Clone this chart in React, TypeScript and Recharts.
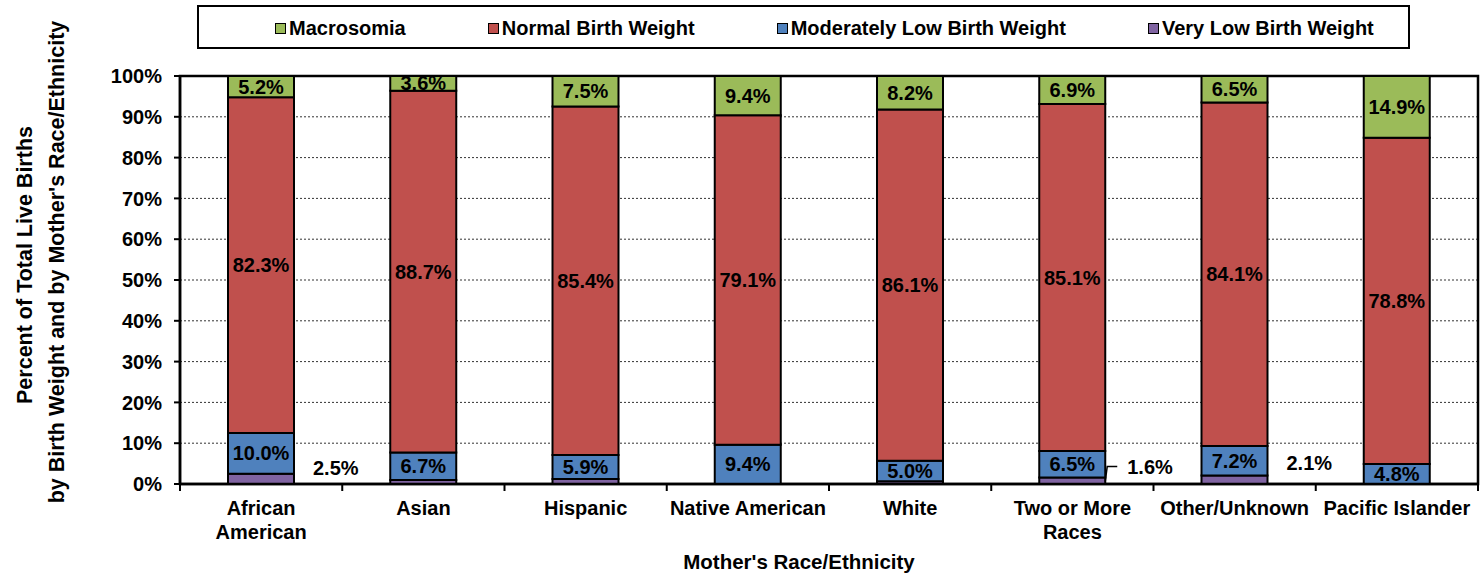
import { BarChart, Bar, XAxis, YAxis, CartesianGrid, LabelList, ReferenceArea, Label } from 'recharts';

const categories = [
  'African\nAmerican',
  'Asian',
  'Hispanic',
  'Native American',
  'White',
  'Two or More\nRaces',
  'Other/Unknown',
  'Pacific Islander',
];
const veryLow = [2.5, 1.0, 1.2, 0, 0.7, 1.6, 2.1, 0];
const moderatelyLow = [10.0, 6.7, 5.9, 9.4, 5.0, 6.5, 7.2, 4.8];
const normalWeight = [82.3, 88.7, 85.4, 79.1, 86.1, 85.1, 84.1, 78.8];
const macrosomia = [5.2, 3.6, 7.5, 9.4, 8.2, 6.9, 6.5, 14.9];
// which very-low labels Excel showed beside the bar ('' = hidden)
const veryLowLabel = ['side', '', '', '', '', 'leader', 'side', ''];
const yTicks = [0, 0.1, 0.2, 0.3, 0.4, 0.5, 0.6, 0.7, 0.8, 0.9, 1];

const data = categories.map((name, i) => ({
  name,
  veryLow: veryLow[i],
  moderatelyLow: moderatelyLow[i],
  normal: normalWeight[i],
  macrosomia: macrosomia[i],
}));

const series = [
  { key: 'macrosomia', name: 'Macrosomia', color: '#9BBB59' },
  { key: 'normal', name: 'Normal Birth Weight', color: '#C0504D' },
  { key: 'moderatelyLow', name: 'Moderately Low Birth Weight', color: '#4F81BD' },
  { key: 'veryLow', name: 'Very Low Birth Weight', color: '#8064A2' },
];

const FONT = '"Liberation Sans", Arial, Helvetica, sans-serif';
const PLOT_LEFT = 180;
const PLOT_RIGHT = 1478;
const BAND = (PLOT_RIGHT - PLOT_LEFT) / categories.length;

const fmt = (v: number) => `${v.toFixed(1)}%`;

function box(props: any) {
  const vb = props.viewBox || {};
  return {
    x: vb.x ?? props.x,
    y: vb.y ?? props.y,
    width: vb.width ?? props.width,
    height: vb.height ?? props.height,
  };
}

function InnerLabel(props: any) {
  const { x, y, width, height } = box(props);
  const v = Number(props.value);
  if (!v) return null;
  return (
    <text
      x={x + width / 2}
      y={y + height / 2}
      textAnchor="middle"
      dominantBaseline="central"
      fontFamily={FONT}
      fontWeight="bold"
      fontSize={20}
      fill="#000"
    >
      {fmt(v)}
    </text>
  );
}

function SideLabel(props: any) {
  const { x, y, width } = box(props);
  // zero-height bars are skipped by the label list, so find the category from the bar position
  const idx = Math.floor((x + width / 2 - PLOT_LEFT) / BAND);
  const kind = veryLowLabel[idx];
  if (!kind) return null;
  const v = veryLow[idx];
  if (kind === 'leader') {
    return (
      <g>
        <polyline
          points={`${x + width},${y + 4} ${x + width + 2},${y - 11} ${x + width + 12},${y - 11}`}
          fill="none"
          stroke="#000"
          strokeWidth={1.5}
        />
        <text x={x + width + 22} y={y - 10} dominantBaseline="central" fontFamily={FONT} fontWeight="bold" fontSize={20} fill="#000">
          {fmt(v)}
        </text>
      </g>
    );
  }
  return (
    <text x={x + width + 19} y={y - (idx === 0 ? 6 : 12)} dominantBaseline="central" fontFamily={FONT} fontWeight="bold" fontSize={20} fill="#000">
      {fmt(v)}
    </text>
  );
}

function XTick(props: any) {
  const { x, y, payload, index } = props;
  const lines = String(payload.value).split('\n');
  const last = index === categories.length - 1;
  return (
    <g>
      <line x1={x - BAND / 2} x2={x - BAND / 2} y1={y} y2={y + 7} stroke="#000" strokeWidth={2} />
      {last && <line x1={x + BAND / 2} x2={x + BAND / 2} y1={y} y2={y + 7} stroke="#000" strokeWidth={2} />}
      {lines.map((t, i) => (
        <text
          key={i}
          x={x}
          y={y + 31 + i * 24}
          textAnchor="middle"
          fontFamily={FONT}
          fontWeight="bold"
          fontSize={20}
          fill="#000"
        >
          {t}
        </text>
      ))}
    </g>
  );
}

function ChartLegend() {
  return (
    <div
      style={{
        position: 'absolute',
        left: 197,
        top: 5,
        width: 1213,
        height: 44,
        boxSizing: 'border-box',
        border: '2px solid #000',
        background: '#fff',
        display: 'flex',
        alignItems: 'center',
        paddingLeft: 76,
        paddingTop: 2,
        gap: 82,
        fontFamily: FONT,
        fontWeight: 'bold',
        fontSize: 20,
        color: '#000',
        whiteSpace: 'nowrap',
      }}
    >
      {series.map((s) => (
        <div key={s.key} style={{ display: 'flex', alignItems: 'center' }}>
          <span
            style={{
              display: 'inline-block',
              width: 9,
              height: 9,
              background: s.color,
              border: '1px solid #000',
              marginRight: 3,
            }}
          />
          {s.name}
        </div>
      ))}
    </div>
  );
}

export default function App() {
  return (
    <div style={{ position: 'absolute', left: 0, top: 0, width: 1480, height: 576, background: '#fff' }}>
      <BarChart
        width={1480}
        height={576}
        data={data}
        stackOffset="expand"
        margin={{ top: 76, right: 2, bottom: 32, left: 100 }}
        barSize={66}
      >
        <CartesianGrid vertical={false} stroke="#333" strokeDasharray="2 2" strokeWidth={1} />
        <XAxis
          dataKey="name"
          interval={0}
          height={60}
          tickLine={false}
          tickSize={0}
          tickMargin={0}
          axisLine={{ stroke: '#000', strokeWidth: 2.5 }}
          tick={<XTick />}
        >
          <Label
            content={() => (
              <text x={799} y={569} textAnchor="middle" fontFamily={FONT} fontWeight="bold" fontSize={20.5} fill="#000">
                Mother's Race/Ethnicity
              </text>
            )}
          />
        </XAxis>
        <YAxis
          type="number"
          domain={[0, 1]}
          ticks={yTicks}
          width={80}
          tickSize={6}
          tickMargin={12}
          interval={0}
          tickFormatter={(v: number) => `${Math.round(v * 100)}%`}
          tick={{ fontFamily: FONT, fontWeight: 'bold', fontSize: 20, fill: '#000' }}
          tickLine={{ stroke: '#000', strokeWidth: 2 }}
          axisLine={{ stroke: '#000', strokeWidth: 2.5 }}
        >
          <Label
            content={() => (
              <g fontFamily={FONT} fontWeight="bold" fontSize={21.5} fill="#000">
                <text transform="translate(25,265) rotate(-90)" textAnchor="middle" dominantBaseline="central">
                  Percent of Total Live Births
                </text>
                <text transform="translate(57,262) rotate(-90)" textAnchor="middle" dominantBaseline="central">
                  by Birth Weight and by Mother's Race/Ethnicity
                </text>
              </g>
            )}
          />
        </YAxis>
        <Bar dataKey="veryLow" name="Very Low Birth Weight" stackId="a" fill="#8064A2" stroke="#000" strokeWidth={2} isAnimationActive={false}>
          <LabelList dataKey="veryLow" content={<SideLabel />} />
        </Bar>
        <Bar dataKey="moderatelyLow" name="Moderately Low Birth Weight" stackId="a" fill="#4F81BD" stroke="#000" strokeWidth={2} isAnimationActive={false}>
          <LabelList dataKey="moderatelyLow" content={<InnerLabel />} />
        </Bar>
        <Bar dataKey="normal" name="Normal Birth Weight" stackId="a" fill="#C0504D" stroke="#000" strokeWidth={2} isAnimationActive={false}>
          <LabelList dataKey="normal" content={<InnerLabel />} />
        </Bar>
        <Bar dataKey="macrosomia" name="Macrosomia" stackId="a" fill="#9BBB59" stroke="#000" strokeWidth={2} isAnimationActive={false}>
          <LabelList dataKey="macrosomia" content={<InnerLabel />} />
        </Bar>
        <ReferenceArea y1={0} y2={1} fill="none" fillOpacity={0} stroke="#000" strokeWidth={2.5} />
      </BarChart>
      <ChartLegend />
    </div>
  );
}
